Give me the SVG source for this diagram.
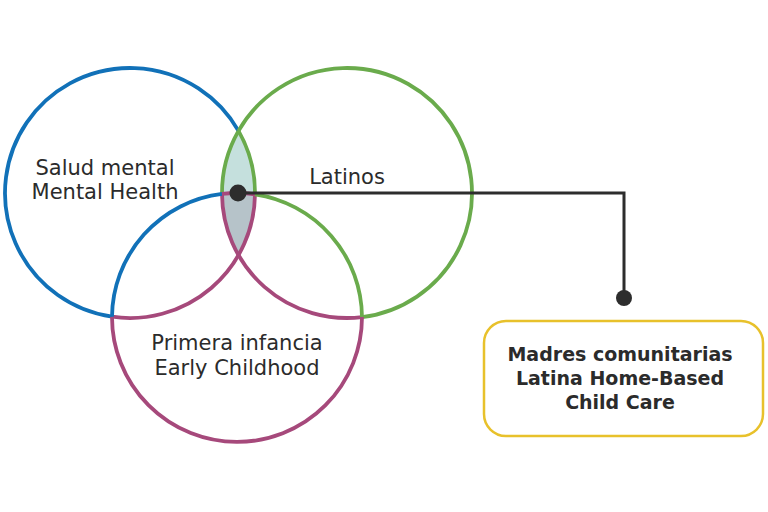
<svg xmlns="http://www.w3.org/2000/svg" width="768" height="512" viewBox="0 0 768 512">
<style>
.arc{fill:none;stroke-width:3.8;stroke-linecap:butt}
.b{stroke:#1171b8}
.g{stroke:#6aab4c}
.p{stroke:#a6497b}
.lbl{font-family:"DejaVu Sans",sans-serif;font-size:21px;fill:#2b2b2b;text-anchor:middle}
.box{font-family:"DejaVu Sans",sans-serif;font-size:19px;font-weight:bold;fill:#2b2b2b;text-anchor:middle}
.conn{fill:none;stroke:#2d2d2d;stroke-width:3}
</style>
<defs>
<clipPath id="clipP"><circle cx="237" cy="318" r="125"/></clipPath>
</defs>
<rect width="768" height="512" fill="#ffffff"/>
<g id="lens-fills">
<path d="M238.5,130.9 A125,125 0 0 1 238.5,255.1 A125,125 0 0 1 238.5,130.9 Z" fill="#c5e0dd"/>
<path d="M238.5,130.9 A125,125 0 0 1 238.5,255.1 A125,125 0 0 1 238.5,130.9 Z" fill="#b6c3c9" clip-path="url(#clipP)"/>
</g>
<g id="mental-health">
<path class="arc b" d="M238.5,130.9 A125,125 0 1 0 112,316.7"/>
<path class="arc g" d="M238.5,130.9 A125,125 0 0 1 255,194.3"/>
<path class="arc p" d="M255,194.3 A125,125 0 0 1 112,316.7"/>
<text class="lbl" x="105" y="175">Salud mental</text>
<text class="lbl" x="105" y="199">Mental Health</text>
</g>
<g id="latinos">
<path class="arc g" d="M238.5,130.9 A125,125 0 1 1 362,317.1"/>
<path class="arc g" d="M238.5,130.9 A125,125 0 0 0 222,193.9"/>
<path class="arc p" d="M222,193.9 A125,125 0 0 0 362,317.1"/>
<text class="lbl" x="347" y="184">Latinos</text>
</g>
<g id="early-childhood">
<path class="arc p" d="M112,316.7 A125,125 0 1 0 362,317.1"/>
<path class="arc b" d="M112,316.7 A125,125 0 0 1 222,193.9"/>
<path class="arc p" d="M222,193.9 A125,125 0 0 1 255,194.3"/>
<path class="arc g" d="M255,194.3 A125,125 0 0 1 362,317.1"/>
<text class="lbl" x="237" y="350">Primera infancia</text>
<text class="lbl" x="237" y="375">Early Childhood</text>
</g>
<g id="connectors">
<polyline class="conn" points="238,193 624,193 624,298"/>
<circle cx="238" cy="193" r="8.5" fill="#2d2d2d"/>
<circle cx="624" cy="298" r="8" fill="#2d2d2d"/>
</g>
<g id="home-based-care">
<rect x="484" y="321" width="279" height="115" rx="22" fill="#ffffff" stroke="#e8c12b" stroke-width="2.5"/>
<text class="box" x="620" y="361">Madres comunitarias</text>
<text class="box" x="620" y="385">Latina Home-Based</text>
<text class="box" x="620" y="409">Child Care</text>
</g>
</svg>
